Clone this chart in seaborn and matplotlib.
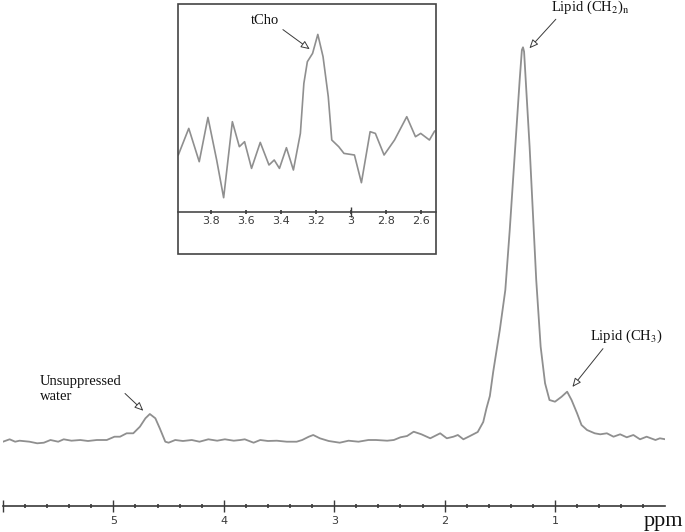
import matplotlib
matplotlib.use("Agg")
import matplotlib.pyplot as plt
from matplotlib.patches import Rectangle
from matplotlib.ticker import FixedLocator, FormatStrFormatter
import seaborn as sns
import numpy as np

# main spectrum: chemical shift (ppm) and signal above baseline (a.u.)
ppm = [6.00, 5.94, 5.89, 5.85, 5.76, 5.69, 5.63, 5.57, 5.50, 5.45, 5.38, 5.30, 5.23, 5.15,
       5.06, 4.99, 4.94, 4.88, 4.82, 4.76, 4.71, 4.67, 4.62, 4.58, 4.53, 4.50, 4.44, 4.37,
       4.29, 4.22, 4.14, 4.06, 3.99, 3.91, 3.85, 3.81, 3.73, 3.67, 3.60, 3.52, 3.43, 3.34,
       3.29, 3.23, 3.19, 3.13, 3.05, 2.95, 2.87, 2.78, 2.69, 2.62, 2.52, 2.46, 2.40, 2.34,
       2.28, 2.21, 2.13, 2.04, 1.98, 1.92, 1.88, 1.83, 1.77, 1.70, 1.65, 1.62, 1.59, 1.56,
       1.50, 1.45, 1.41, 1.38, 1.35, 1.32, 1.30, 1.29, 1.28, 1.26, 1.23, 1.20, 1.17, 1.13,
       1.09, 1.05, 1.00, 0.94, 0.89, 0.85, 0.80, 0.76, 0.71, 0.64, 0.59, 0.53, 0.47, 0.41,
       0.35, 0.29, 0.23, 0.17, 0.09, 0.05, 0.00]
signal = [-1.7, 0.7, -1.7, -0.7, -1.7, -3.3, -2.7, 0.0, -1.7, 0.7, -0.7, 0.0, -1.0, 0.0,
          0.0, 3.3, 3.3, 6.7, 6.7, 13.3, 21.7, 26.0, 21.7, 11.7, -1.7, -2.7, 0.0, -1.0,
          0.0, -1.7, 0.7, -0.7, 0.7, -0.7, 0.0, 0.7, -2.7, 0.0, -1.0, -0.7, -1.7, -1.7,
          0.0, 3.3, 5.0, 1.7, -1.0, -2.7, -0.7, -1.7, 0.0, 0.0, -0.7, 0.0, 2.7, 4.0,
          8.3, 5.7, 1.7, 6.7, 1.7, 3.3, 5.0, 0.7, 4.0, 8.0, 18.0, 32.0, 44.0, 68.0,
          110.0, 150.0, 210.0, 260.0, 310.0, 360.0, 390.0, 392.7, 388.3, 350.0, 293.3, 226.7, 160.0, 93.3,
          56.7, 40.0, 38.3, 43.3, 48.3, 40.0, 26.7, 15.0, 10.0, 6.7, 5.7, 6.7, 3.3, 5.7,
          2.7, 5.0, 0.7, 3.3, 0.0, 1.7, 0.7]

# inset: 4.0 - 2.5 ppm region, zoomed
inset_ppm = [3.99, 3.93, 3.87, 3.82, 3.77, 3.73, 3.68, 3.64, 3.61, 3.57, 3.52, 3.47, 3.44,
             3.41, 3.37, 3.33, 3.29, 3.27, 3.25, 3.22, 3.19, 3.16, 3.13, 3.11, 3.07, 3.04,
             2.98, 2.94, 2.89, 2.86, 2.81, 2.75, 2.68, 2.63, 2.60, 2.55, 2.52]
inset_signal = [56.7, 83.3, 50.0, 94.3, 51.7, 14.0, 90.0, 65.0, 70.0, 43.3, 69.3, 46.7, 51.7,
                43.3, 64.0, 41.7, 78.3, 128.3, 150.0, 158.3, 177.3, 155.0, 115.0, 71.7, 65.0, 58.3,
                56.7, 29.0, 80.0, 78.3, 56.7, 71.7, 95.0, 75.0, 78.3, 71.7, 80.7]

main_ticks = [6, 5, 4, 3, 2, 1]
main_labels = ['', '5', '4', '3', '2', '1']
inset_ticks = [3.8, 3.6, 3.4, 3.2, 3.0, 2.8, 2.6]

sns.set_style("white")
plt.rcParams['font.family'] = ['Liberation Serif', 'DejaVu Serif']
plt.rcParams['mathtext.fontset'] = 'stix'
plt.rcParams['text.color'] = '#111111'

line_col = '#8f8f8f'
dark = '#3a3a3a'

fig = plt.figure(figsize=(6.85, 5.32), dpi=100)

# main spectrum
ax = fig.add_axes([3 / 685, 26 / 532, 662.4 / 685, 506 / 532])
sns.lineplot(x=ppm, y=signal, ax=ax, color=line_col, lw=1.3, sort=False, estimator=None)
ax.set_xlim(6, 0)
ax.set_ylim(-66, 440)
for s in ['left', 'top', 'right']:
    ax.spines[s].set_visible(False)
ax.spines['bottom'].set_color(dark)
ax.spines['bottom'].set_linewidth(1.2)
ax.set_yticks([])
ax.set_xticks(main_ticks)
ax.set_xticklabels(main_labels, family='DejaVu Sans', fontsize=8, color=dark)
ax.xaxis.set_minor_locator(FixedLocator(np.arange(0.2, 6.0, 0.2)))
ax.tick_params(axis='x', which='both', bottom=True)
ax.tick_params(axis='x', which='major', direction='inout', length=8, width=1, color=dark, pad=3.5)
ax.tick_params(axis='x', which='minor', direction='inout', length=2.5, width=1.2, color=dark)
ax.set_xlabel('')
fig.text(0.998, 0.012, 'ppm', ha='right', va='baseline', fontsize=16)

arrow = dict(arrowstyle='-|>,head_length=0.5,head_width=0.22', fc='white', ec=dark, lw=0.7,
             shrinkA=0, shrinkB=1)
ax.annotate(r'Lipid (CH$_2$)$_\mathrm{n}$', xy=(1.24, 390.7), xytext=(0.68, 432.7), ha='center',
            va='center', fontsize=10.5, arrowprops=dict(arrow, relpos=(0.1, 0)))
ax.annotate('Lipid (CH$_3$)', xy=(0.85, 52), xytext=(0.357, 103.3), ha='center', va='center',
            fontsize=10.5, arrowprops=dict(arrow, relpos=(0.22, 0)))
ax.annotate('Unsuppressed\nwater', xy=(4.72, 28.3), xytext=(5.665, 51), ha='left', va='center',
            fontsize=10.5, linespacing=1.15, arrowprops=dict(arrow, relpos=(1.0, 0.45)))

# inset frame and axes
fig.patches.append(Rectangle((178.3 / 685, (532 - 254) / 532), 257.4 / 685, 250 / 532,
                             transform=fig.transFigure, fill=False, ec='#444444', lw=1.2))
axi = fig.add_axes([178.3 / 685, (532 - 211.7) / 532, 257.4 / 685, 207.7 / 532])
axi.patch.set_alpha(0)
sns.lineplot(x=inset_ppm, y=inset_signal, ax=axi, color=line_col, lw=1.2, sort=False, estimator=None)
axi.set_xlim(3.99, 2.514)
axi.set_ylim(0, 207.7)
for s in ['left', 'top', 'right']:
    axi.spines[s].set_visible(False)
axi.spines['bottom'].set_color(dark)
axi.spines['bottom'].set_linewidth(1.1)
axi.set_yticks([])
axi.set_xticks(inset_ticks)
axi.xaxis.set_major_formatter(FormatStrFormatter('%g'))
axi.xaxis.set_minor_locator(FixedLocator([3.0]))
axi.xaxis.remove_overlapping_locs = False
for lab in axi.get_xticklabels():
    lab.set_family('DejaVu Sans')
axi.tick_params(axis='x', which='both', bottom=True)
axi.tick_params(axis='x', which='major', direction='inout', length=3, width=1.2, color=dark,
                labelsize=8, labelcolor=dark, pad=1.5)
axi.tick_params(axis='x', which='minor', direction='inout', length=7, width=1, color=dark)
axi.set_xlabel('')
axi.annotate('tCho', xy=(3.23, 161.7), xytext=(3.49, 191), ha='center', va='center',
             fontsize=10.5, arrowprops=dict(arrow, relpos=(1.0, 0)))

fig.savefig('out.png', dpi=100)
